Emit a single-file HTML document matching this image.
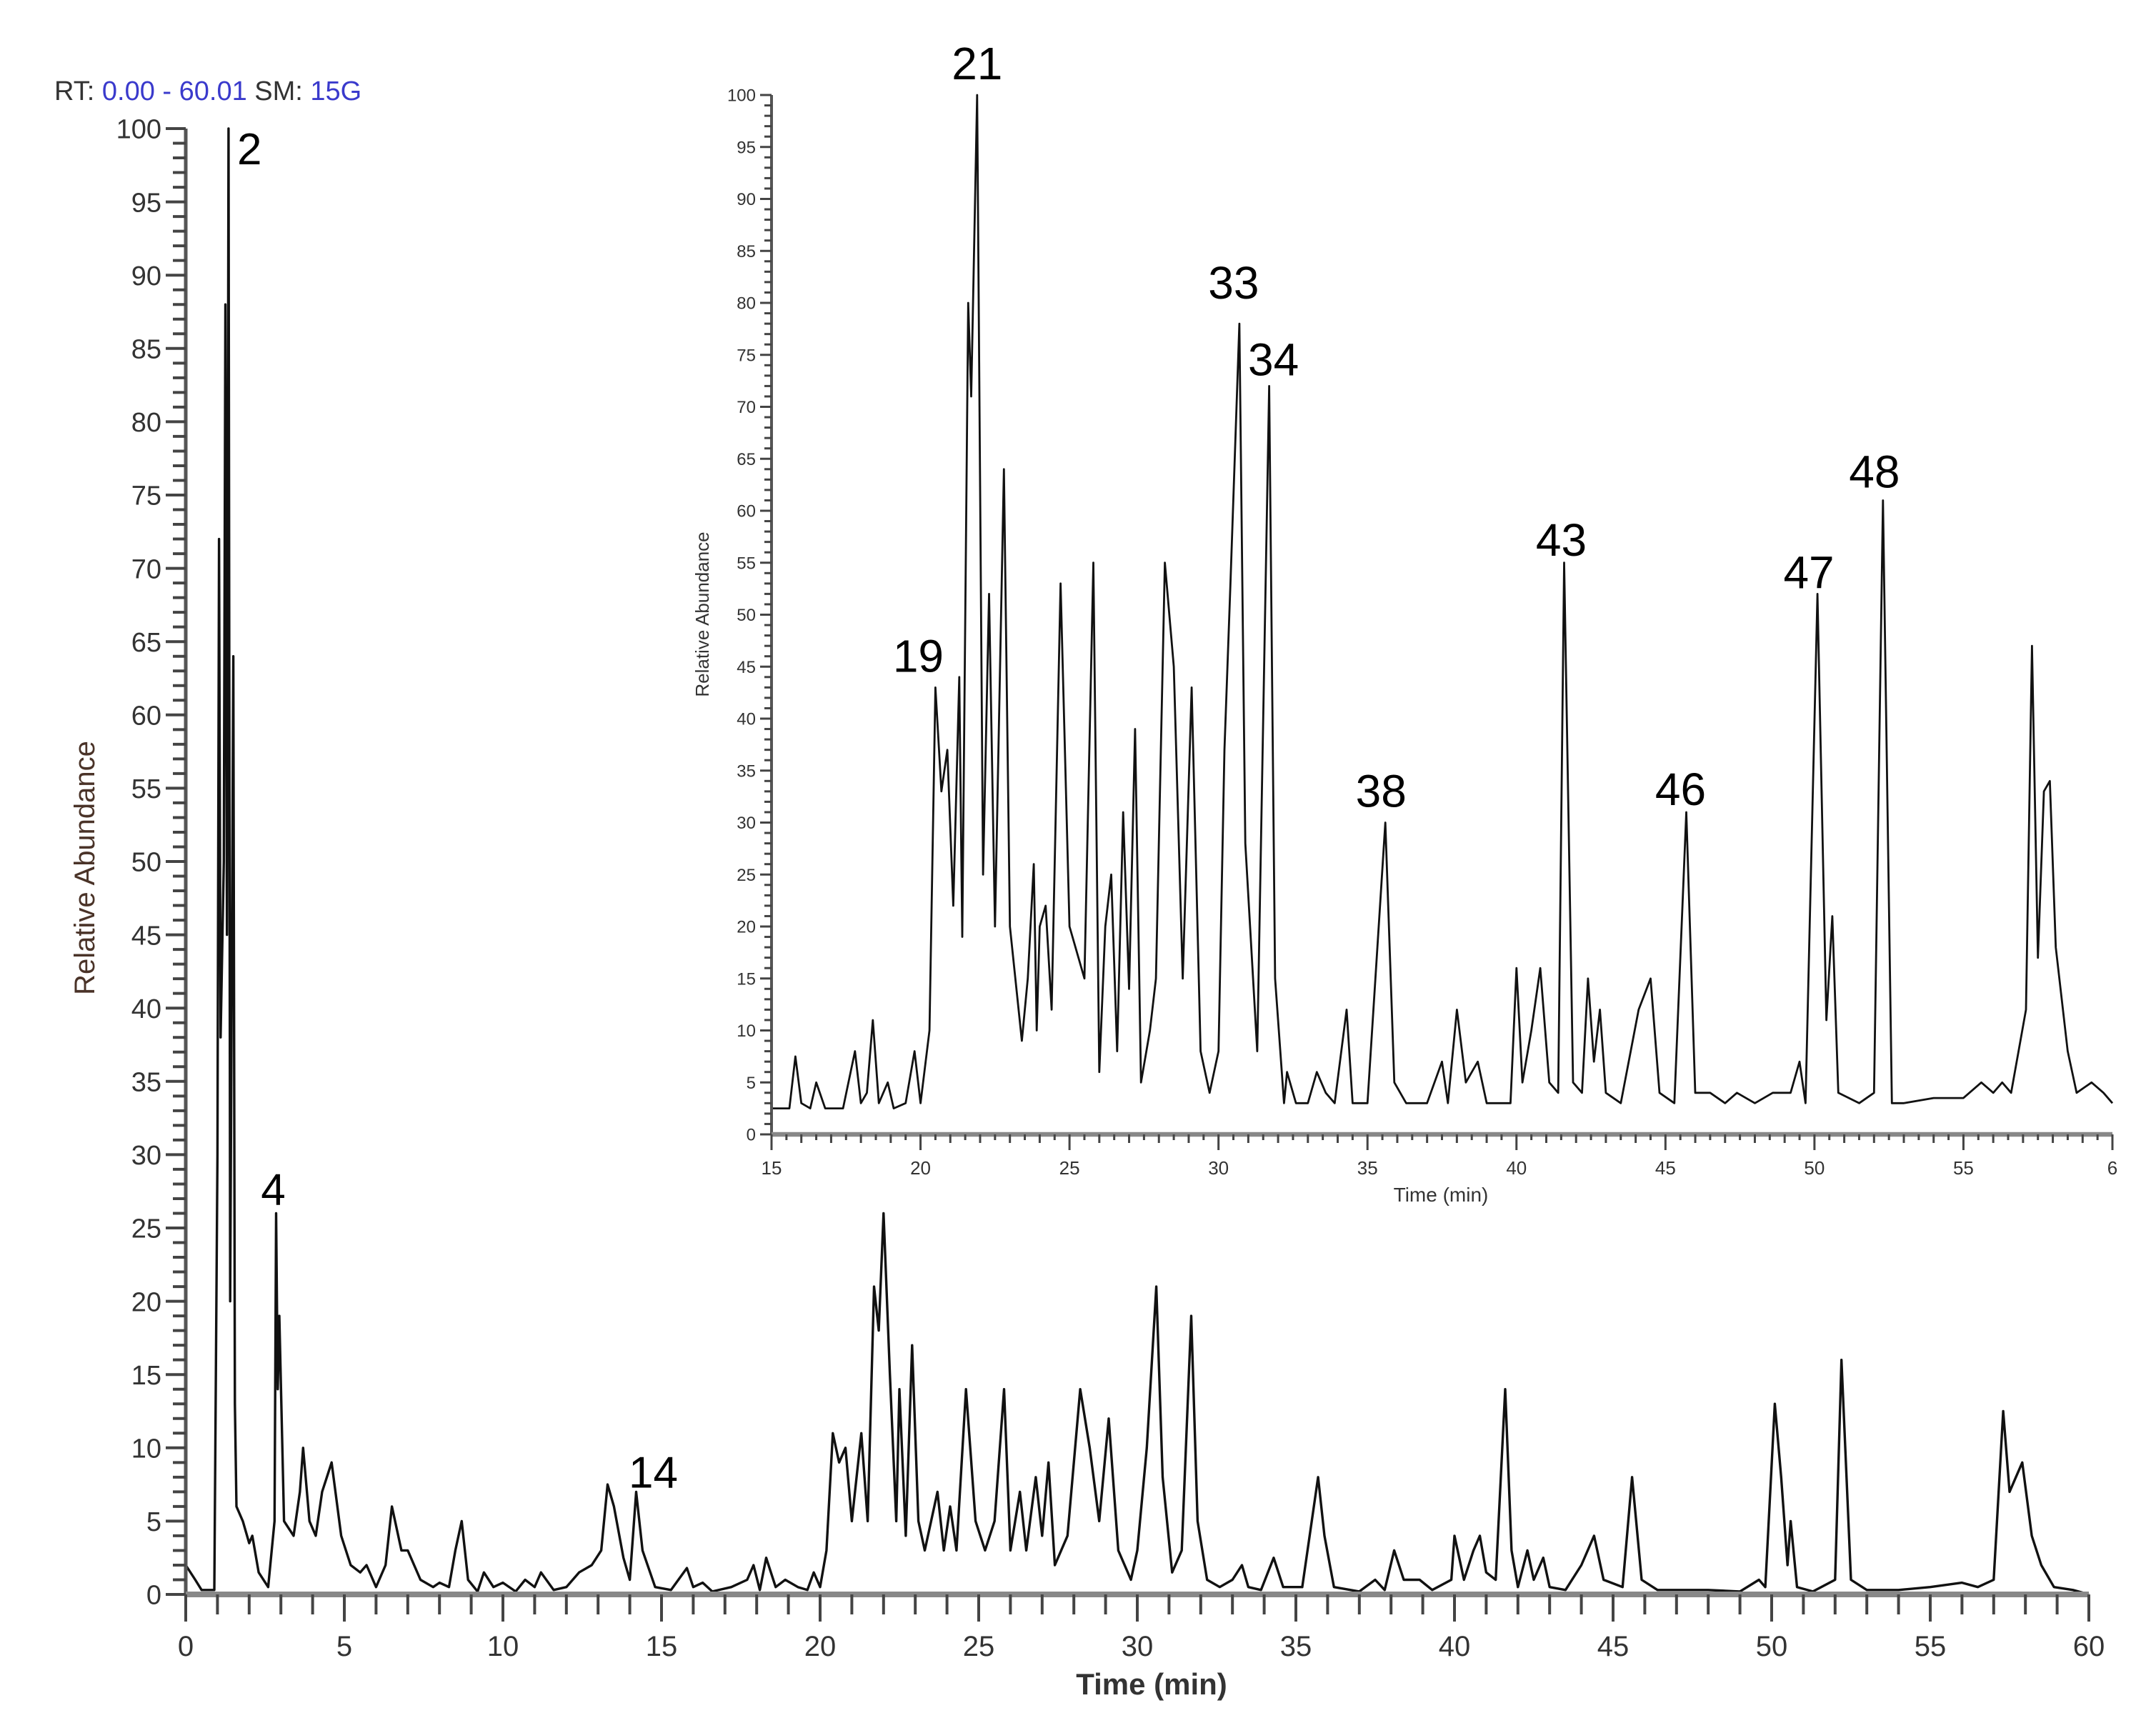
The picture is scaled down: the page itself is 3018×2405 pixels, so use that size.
<!DOCTYPE html>
<html><head><meta charset="utf-8"><style>
html,body{margin:0;padding:0;background:#fff;}
svg{display:block;font-family:"Liberation Sans",sans-serif;}
</style></head><body>
<svg id="chart" width="3018" height="2405" viewBox="0 0 3018 2405" xmlns="http://www.w3.org/2000/svg">
<rect width="3018" height="2405" fill="#fff"/>
<text x="76" y="140" font-size="38" fill="#333"><tspan fill="#333">RT:</tspan><tspan fill="#3a3acc"> 0.00 - 60.01</tspan><tspan fill="#333">   SM:</tspan><tspan fill="#3a3acc"> 15G</tspan></text>
<g id="main"></g>
<g id="inset"></g>
</svg>
<script>
// ---- main chromatogram data ----
const mainTimes = [0,0.3,0.5,0.9,1.0,1.05,1.1,1.2,1.25,1.3,1.35,1.4,1.5,1.55,1.6,1.8,2.0,2.1,2.3,2.6,2.8,2.85,2.9,2.95,3.1,3.4,3.6,3.7,3.9,4.1,4.3,4.6,4.9,5.2,5.5,5.7,6.0,6.3,6.5,6.8,7.0,7.4,7.8,8.0,8.3,8.5,8.7,8.9,9.2,9.4,9.7,10,10.4,10.7,11,11.2,11.6,12,12.4,12.8,13.1,13.3,13.5,13.8,14,14.2,14.4,14.8,15.3,15.8,16,16.3,16.6,17.2,17.7,17.9,18.1,18.3,18.6,18.9,19.3,19.6,19.8,20,20.2,20.4,20.6,20.8,21,21.3,21.5,21.7,21.85,22,22.2,22.4,22.5,22.7,22.9,23.1,23.3,23.5,23.7,23.9,24.1,24.3,24.6,24.9,25.2,25.5,25.8,26,26.3,26.5,26.8,27,27.2,27.4,27.8,28.2,28.5,28.8,29.1,29.4,29.8,30.0,30.3,30.6,30.8,31.1,31.4,31.7,31.9,32.2,32.6,33,33.3,33.5,33.9,34.3,34.6,35.2,35.7,35.9,36.2,37,37.5,37.8,38.1,38.4,38.9,39.3,39.9,40,40.3,40.6,40.8,41,41.3,41.6,41.8,42,42.3,42.5,42.8,43,43.5,44,44.4,44.7,45.3,45.6,45.9,46.4,47,48,49,49.6,49.8,50.1,50.3,50.5,50.6,50.8,51.3,52,52.2,52.5,53,54,55,56,56.5,57,57.3,57.5,57.7,57.9,58.2,58.5,58.9,59.5,60];
const mainValues = [2,1,0.3,0.3,30,72,38,50,88,45,100,20,64,13,6,5,3.5,4,1.5,0.5,5,26,14,19,5,4,7,10,5,4,7,9,4,2,1.5,2,0.5,2,6,3,3,1,0.5,0.8,0.5,3,5,1,0.2,1.5,0.5,0.8,0.2,1,0.5,1.5,0.3,0.5,1.5,2,3,7.5,6,2.5,1,7,3,0.5,0.3,1.8,0.5,0.8,0.2,0.5,1,2,0.3,2.5,0.5,1,0.5,0.3,1.5,0.5,3,11,9,10,5,11,5,21,18,26,15,5,14,4,17,5,3,5,7,3,6,3,14,5,3,5,14,3,7,3,8,4,9,2,4,14,10,5,12,3,1,3,10,21,8,1.5,3,19,5,1,0.5,1,2,0.5,0.3,2.5,0.5,0.5,8,4,0.5,0.2,1,0.3,3,1,1,0.3,1,4,1,3,4,1.5,1,14,3,0.5,3,1,2.5,0.5,0.3,2,4,1,0.5,8,1,0.3,0.3,0.3,0.2,1,0.5,13,8,2,5,0.5,0.2,1,16,1,0.3,0.3,0.5,0.8,0.5,1,12.5,7,8,9,4,2,0.5,0.3,0];
const mainYTicks = [0,5,10,15,20,25,30,35,40,45,50,55,60,65,70,75,80,85,90,95,100];
const mainXTicks = [0,5,10,15,20,25,30,35,40,45,50,55,60];
const mainPeakLabels = ["2","4","14"];
const mainPeakTimes = [1.35,2.85,14.2];
const mainPeakValues = [100,26,7];

// ---- inset chromatogram data ----
const insetTimes = [15,15.6,15.8,16,16.3,16.5,16.8,17.4,17.8,18,18.2,18.4,18.6,18.9,19.1,19.5,19.8,20,20.3,20.5,20.7,20.9,21.1,21.3,21.4,21.6,21.7,21.9,22.1,22.3,22.5,22.8,23,23.4,23.6,23.8,23.9,24,24.2,24.4,24.7,25,25.5,25.8,26,26.2,26.4,26.6,26.8,27,27.2,27.4,27.7,27.9,28.2,28.5,28.8,29.1,29.4,29.7,30,30.2,30.4,30.7,30.9,31.3,31.7,31.9,32.2,32.3,32.6,33,33.3,33.6,33.9,34.3,34.5,35,35.6,35.9,36.3,37,37.5,37.7,38,38.3,38.7,39,39.8,40,40.2,40.5,40.8,41.1,41.4,41.6,41.9,42.2,42.4,42.6,42.8,43,43.5,44.1,44.5,44.8,45.3,45.7,46,46.5,47,47.4,48,48.6,49.2,49.5,49.7,50.1,50.4,50.6,50.8,51.5,52,52.3,52.6,53,54,55,55.6,56,56.3,56.6,57.1,57.3,57.5,57.7,57.9,58.1,58.5,58.8,59.3,59.7,60];
const insetValues = [2.5,2.5,7.5,3,2.5,5,2.5,2.5,8,3,4,11,3,5,2.5,3,8,3,10,43,33,37,22,44,19,80,71,100,25,52,20,64,20,9,15,26,10,20,22,12,53,20,15,55,6,20,25,8,31,14,39,5,10,15,55,45,15,43,8,4,8,37,53,78,28,8,72,15,3,6,3,3,6,4,3,12,3,3,30,5,3,3,7,3,12,5,7,3,3,16,5,10,16,5,4,55,5,4,15,7,12,4,3,12,15,4,3,31,4,4,3,4,3,4,4,7,3,52,11,21,4,3,4,61,3,3,3.5,3.5,5,4,5,4,12,47,17,33,34,18,8,4,5,4,3];
const insetYTicks = [0,5,10,15,20,25,30,35,40,45,50,55,60,65,70,75,80,85,90,95,100];
const insetXTicks = [15,20,25,30,35,40,45,50,55,60];
const insetXTickLabels = ["15","20","25","30","35","40","45","50","55","6"];
const insetPeakLabels = ["19","21","33","34","38","43","46","47","48"];
const insetPeakTimes = [20.5,21.9,30.7,31.7,35.6,41.6,45.7,50.1,52.3];
const insetPeakValues = [43,100,78,72,30,55,31,52,61];

const NS="http://www.w3.org/2000/svg";
function mk(tag,attrs,parent){const e=document.createElementNS(NS,tag);for(const k in attrs)e.setAttribute(k,attrs[k]);parent.appendChild(e);return e;}

function drawChart(g,cfg){
  const sx=t=>cfg.x0+(t-cfg.tmin)/(cfg.tmax-cfg.tmin)*(cfg.x1-cfg.x0);
  const sy=v=>cfg.y0-v/100*(cfg.y0-cfg.y100);
  let d="";
  cfg.times.forEach((t,i)=>{d+=(i?"L":"M")+sx(t).toFixed(1)+","+sy(cfg.values[i]).toFixed(1);});
  const p=mk("path",{d:d,fill:"none",stroke:"#111","stroke-width":cfg.lw,"stroke-linejoin":"round"},g);
  
  
  const ya=mk("line",{x1:cfg.x0,y1:cfg.y100,x2:cfg.x0,y2:cfg.y0,stroke:"#555","stroke-width":cfg.aw},g);
  
  
  for(let v=0;v<=100;v++){
    const major=v%5===0;
    mk("line",{x1:cfg.x0-(major?cfg.yMaj:cfg.yMin),x2:cfg.x0,y1:sy(v),y2:sy(v),stroke:"#444","stroke-width":cfg.tw},g);
  }
  cfg.yTicks.forEach(v=>{
    const t=mk("text",{x:cfg.x0-cfg.yMaj-6,y:sy(v)+cfg.yfs*0.36,"font-size":cfg.yfs,"text-anchor":"end",fill:"#333"},g);
    t.textContent=v;
    
    
  });
  const xa=mk("line",{x1:cfg.x0,y1:cfg.y0,x2:cfg.x1,y2:cfg.y0,stroke:"#888","stroke-width":cfg.aw*1.6},g);
  
  
  for(let t=cfg.tmin;t<=cfg.tmax+1e-6;t+=cfg.xMinorStep){
    const major=Math.abs(t/5-Math.round(t/5))<1e-6;
    const mid=!major && Math.abs(t-Math.round(t))<1e-6;
    const len=major?cfg.xMaj:(mid?cfg.xMid:cfg.xMin);
    mk("line",{x1:sx(t),x2:sx(t),y1:cfg.y0,y2:cfg.y0+len,stroke:"#444","stroke-width":cfg.tw},g);
  }
  cfg.xTicks.forEach((v,i)=>{
    const t=mk("text",{x:sx(v),y:cfg.y0+cfg.xlabOff,"font-size":cfg.xfs,"text-anchor":"middle",fill:"#333"},g);
    t.textContent=cfg.xTickLabels?cfg.xTickLabels[i]:v;
    
    
  });
  const xt=mk("text",{x:cfg.xTitle[0],y:cfg.xTitle[1],"font-size":cfg.xTitle[2],"text-anchor":"middle",fill:"#333","font-weight":cfg.xTitle[3]},g);
  xt.textContent="Time (min)";
  
  
  const yt=mk("text",{x:0,y:0,"font-size":cfg.yTitle[2],"text-anchor":"middle",fill:cfg.yTitle[3],transform:"translate("+cfg.yTitle[0]+","+cfg.yTitle[1]+") rotate(-90)"},g);
  yt.textContent="Relative Abundance";
  
  
  cfg.peakLabels.forEach((lab,i)=>{
    const off=cfg.poff[i];
    const t=mk("text",{x:sx(cfg.peakTimes[i])+off[0],y:sy(cfg.peakValues[i])+off[1],"font-size":cfg.pfs,"text-anchor":off[2],fill:"#000"},g);
    t.textContent=lab;
    
    
  });
}

drawChart(document.getElementById("main"),{prefix:"main",times:mainTimes,values:mainValues,tmin:0,tmax:60,
  x0:260,x1:2924,y0:2232,y100:180,lw:3.4,aw:5,tw:4,yMaj:28,yMin:18,xMaj:38,xMid:28,xMin:28,xMinorStep:1,
  yTicks:mainYTicks,xTicks:mainXTicks,yfs:38,xfs:40,xlabOff:86,
  xTitle:[1612,2372,42,"bold"],yTitle:[132,1215,40,"#4a3328"],
  peakLabels:mainPeakLabels,peakTimes:mainPeakTimes,peakValues:mainPeakValues,
  poff:[[12,50,"start"],[-4,-12,"middle"],[24,-6,"middle"]],pfs:62});

drawChart(document.getElementById("inset"),{prefix:"inset",times:insetTimes,values:insetValues,tmin:15,tmax:60,
  x0:1080,x1:2957,y0:1588,y100:133,lw:2.8,aw:4,tw:3,yMaj:16,yMin:10,xMaj:22,xMid:12,xMin:8,xMinorStep:0.5,
  yTicks:insetYTicks,xTicks:insetXTicks,xTickLabels:insetXTickLabels,yfs:24,xfs:26,xlabOff:56,
  xTitle:[2017,1682,28,"normal"],yTitle:[992,860,26,"#333"],
  peakLabels:insetPeakLabels,peakTimes:insetPeakTimes,peakValues:insetPeakValues,
  poff:[[-24,-22,"middle"],[0,-22,"middle"],[-8,-35,"middle"],[6,-15,"middle"],[-6,-22,"middle"],[-4,-10,"middle"],[-8,-10,"middle"],[-12,-8,"middle"],[-12,-18,"middle"]],pfs:64});
</script>
</body></html>
